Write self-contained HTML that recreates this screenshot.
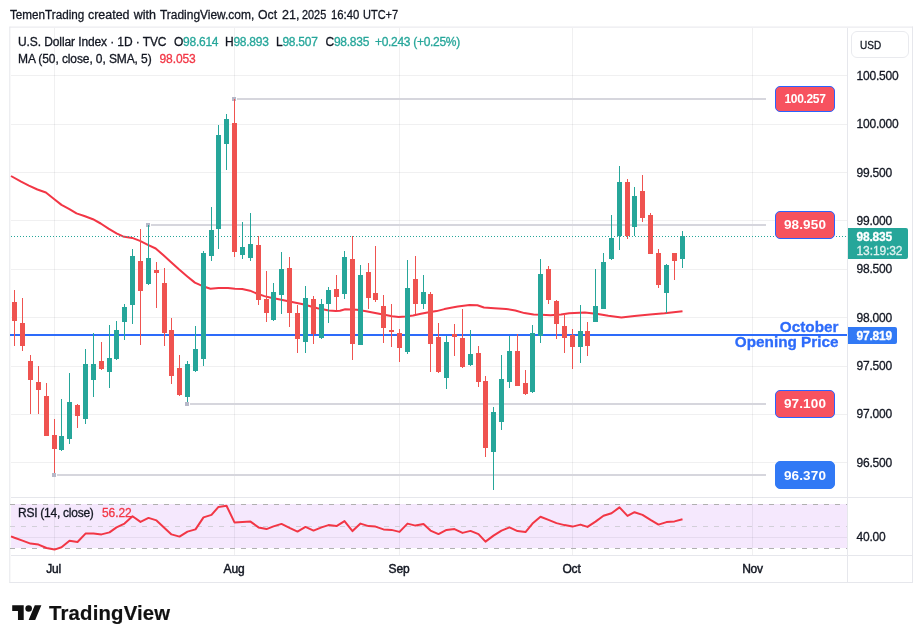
<!DOCTYPE html>
<html><head><meta charset="utf-8"><title>chart</title>
<style>
html,body{margin:0;padding:0;background:#fff;}
body{-webkit-text-stroke:0.3px;width:923px;height:643px;position:relative;overflow:hidden;font-family:"Liberation Sans",sans-serif;color:#131722;}
.abs{position:absolute;white-space:nowrap;}
.hdr{left:10px;top:7px;font-size:12.5px;line-height:16px;letter-spacing:0;}
.leg{font-size:12px;line-height:16px;letter-spacing:-0.1px;}
.g{color:#26a69a;} .r{color:#f23645;}
.ax{position:absolute;left:856.5px;font-size:12px;line-height:16px;white-space:nowrap;letter-spacing:-0.2px;}
.lbl{-webkit-text-stroke:0;position:absolute;left:775px;width:58px;height:24px;border:1px solid #2962ff;border-radius:5px;background:#f7525f;color:#fff;font-weight:bold;font-size:13.5px;line-height:24px;text-align:center;letter-spacing:0;}
.tm{position:absolute;top:562px;font-size:12px;line-height:14px;font-weight:normal;-webkit-text-stroke:0.45px;letter-spacing:-0.2px;color:#131722;transform:translateX(-50%);white-space:nowrap;}
</style></head><body><div id="root" style="position:absolute;left:0;top:0;width:923px;height:643px;will-change:transform;">
<div class="abs hdr" style="left:10.4px;transform:scaleX(0.935);transform-origin:0 0;">TemenTrading</div><div class="abs hdr" style="left:88.2px;transform:scaleX(0.995);transform-origin:0 0;">created</div><div class="abs hdr" style="left:133.8px;transform:scaleX(1.0);transform-origin:0 0;">with</div><div class="abs hdr" style="left:160.4px;transform:scaleX(0.955);transform-origin:0 0;">TradingView.com,</div><div class="abs hdr" style="left:258.4px;transform:scaleX(0.98);transform-origin:0 0;">Oct</div><div class="abs hdr" style="left:282px;transform:scaleX(1.0);transform-origin:0 0;">21,</div><div class="abs hdr" style="left:301.8px;transform:scaleX(0.87);transform-origin:0 0;">2025</div><div class="abs hdr" style="left:330.9px;transform:scaleX(0.905);transform-origin:0 0;">16:40</div><div class="abs hdr" style="left:363.4px;transform:scaleX(0.88);transform-origin:0 0;">UTC+7</div>
<svg class="abs" style="left:0;top:0" width="923" height="643" viewBox="0 0 923 643" shape-rendering="crispEdges">
<g shape-rendering="auto" fill="#e6e7ec"><rect x="9.300" y="26.600" width="1" height="556.400"/><rect x="9.600" y="26.600" width="903.400" height="1"/><rect x="912" y="26.600" width="1" height="556.400"/><rect x="9.600" y="582" width="903.400" height="1"/></g>
<rect x="847" y="28" width="1" height="555" fill="#e6e7ec"/>
<rect x="11" y="497" width="901" height="1" fill="#e6e7ec"/>
<rect x="11" y="555" width="901" height="1" fill="#e6e7ec"/>
<rect x="11" y="504" width="836" height="44" fill="#f5e8fd"/>
<rect x="54" y="28" width="1" height="527" fill="rgba(30,34,50,0.065)"/>
<rect x="234" y="28" width="1" height="527" fill="rgba(30,34,50,0.065)"/>
<rect x="399" y="28" width="1" height="527" fill="rgba(30,34,50,0.065)"/>
<rect x="572" y="28" width="1" height="527" fill="rgba(30,34,50,0.065)"/>
<rect x="752" y="28" width="1" height="527" fill="rgba(30,34,50,0.065)"/>
<rect x="11" y="75" width="836" height="1" fill="rgba(30,34,50,0.065)"/>
<rect x="11" y="124" width="836" height="1" fill="rgba(30,34,50,0.065)"/>
<rect x="11" y="172" width="836" height="1" fill="rgba(30,34,50,0.065)"/>
<rect x="11" y="220" width="836" height="1" fill="rgba(30,34,50,0.065)"/>
<rect x="11" y="269" width="836" height="1" fill="rgba(30,34,50,0.065)"/>
<rect x="11" y="317" width="836" height="1" fill="rgba(30,34,50,0.065)"/>
<rect x="11" y="366" width="836" height="1" fill="rgba(30,34,50,0.065)"/>
<rect x="11" y="414" width="836" height="1" fill="rgba(30,34,50,0.065)"/>
<rect x="11" y="462" width="836" height="1" fill="rgba(30,34,50,0.065)"/>
<rect x="11" y="537" width="836" height="1" fill="rgba(30,34,50,0.065)"/>
<line x1="10" y1="504.5" x2="847" y2="504.5" stroke="#b0b0b0" stroke-width="1" stroke-dasharray="5 6"/>
<line x1="10" y1="526.5" x2="847" y2="526.5" stroke="#d2cfd8" stroke-width="1" stroke-dasharray="5 6"/>
<line x1="10" y1="548.5" x2="847" y2="548.5" stroke="#b0b0b0" stroke-width="1" stroke-dasharray="5 6"/>
<rect x="237" y="98" width="529" height="2" fill="#d6d6dd"/>
<rect x="151" y="224" width="615" height="2" fill="#d6d6dd"/>
<rect x="190" y="403" width="576" height="2" fill="#d6d6dd"/>
<rect x="57" y="474" width="709" height="2" fill="#d6d6dd"/>
<g fill="#b7b9c9">
<rect x="232" y="97" width="4" height="4"/>
<rect x="146" y="223" width="4" height="4"/>
<rect x="185" y="402" width="4" height="4"/>
<rect x="52" y="473" width="4" height="4"/>
</g>
<rect x="10" y="334" width="837" height="2" fill="#2d6bfa"/>
<g shape-rendering="auto">
<polyline points="11.0,176.0 21.1,181.7 28.9,185.6 37.4,189.5 45.9,192.5 53.7,198.7 61.5,204.9 69.4,209.1 76.5,213.4 85.0,216.3 92.9,219.2 100.7,223.5 108.5,228.7 116.5,233.4 123.0,236.4 132.2,237.9 140.0,240.9 147.9,244.8 155.7,248.5 163.5,255.3 171.4,262.5 179.2,269.6 187.0,276.2 194.9,282.6 201.6,285.7 210.4,288.8 218.5,288.0 228.0,287.9 235.0,288.7 242.2,289.0 250.0,290.7 256.6,293.5 264.4,296.1 271.0,297.8 280.0,299.4 292.0,302.0 303.0,304.2 317.5,308.2 329.0,310.5 335.7,311.0 340.0,310.7 345.2,309.2 357.0,309.8 366.1,311.3 375.2,312.9 383.1,314.6 392.2,316.3 398.7,317.1 405.3,316.6 413.1,315.5 420.9,313.7 428.8,312.2 436.6,311.1 444.4,309.1 452.3,307.6 457.8,306.6 469.6,305.0 477.4,305.2 483.9,307.5 494.4,308.2 506.1,308.9 515.3,310.5 524.4,313.1 533.6,314.4 541.4,314.8 550.5,315.3 561.0,314.4 569.2,313.2 584.8,312.5 597.9,313.9 608.3,315.8 621.4,317.4 634.4,316.1 650.0,314.4 664.6,313.3 682.5,311.3" fill="none" stroke="#f23645" stroke-width="2" stroke-linejoin="round" stroke-linecap="butt"/>
<polyline points="11.0,536.4 14.5,537.8 22.5,540.6 30.5,543.6 38.5,544.6 46.5,548.0 54.5,549.6 61.5,547.3 69.5,540.8 77.5,542.0 85.5,533.6 93.5,533.4 101.5,534.4 109.5,532.4 116.5,527.4 124.5,523.6 132.5,516.2 140.5,521.9 148.5,517.9 156.5,520.4 164.5,527.9 171.5,534.4 179.5,536.6 187.5,531.6 195.5,529.4 203.5,517.4 211.5,514.9 218.5,506.9 226.5,505.7 234.5,522.4 242.5,521.9 250.5,521.6 258.5,527.4 266.5,529.1 273.5,526.4 281.5,523.9 289.5,527.9 297.5,531.6 305.5,526.9 313.5,530.6 321.5,527.4 328.5,525.1 336.5,526.1 344.5,521.1 352.5,531.1 360.5,523.6 368.5,526.1 375.5,526.6 383.5,529.4 391.5,529.9 399.5,531.9 407.5,523.6 415.5,525.6 423.5,524.1 430.5,530.6 438.5,534.1 446.5,529.9 454.5,529.1 462.5,532.9 470.5,530.9 478.5,534.1 485.5,541.6 493.5,535.6 501.5,530.6 509.5,527.4 517.5,531.1 525.5,532.1 532.5,523.6 540.5,516.7 548.5,519.9 556.5,523.1 564.5,525.1 572.5,526.6 580.5,524.6 587.5,526.9 595.5,521.6 603.5,515.7 611.5,513.2 619.5,507.4 627.5,515.9 634.5,512.2 642.5,514.9 650.5,519.9 658.5,524.6 666.5,522.1 674.5,521.4 682.5,519.2" fill="none" stroke="#f23645" stroke-width="2" stroke-linejoin="round" stroke-linecap="butt"/>
</g>
<line x1="11" y1="236.5" x2="847" y2="236.5" stroke="#26a69a" stroke-width="1" stroke-dasharray="1 2"/>
<rect x="14" y="290" width="1" height="56" fill="#ef5350"/>
<rect x="12" y="302" width="5" height="19" fill="#ef5350"/>
<rect x="22" y="298" width="1" height="53" fill="#ef5350"/>
<rect x="20" y="323" width="5" height="23" fill="#ef5350"/>
<rect x="30" y="355" width="1" height="59" fill="#ef5350"/>
<rect x="28" y="361" width="5" height="19" fill="#ef5350"/>
<rect x="38" y="366" width="1" height="48" fill="#ef5350"/>
<rect x="36" y="382" width="5" height="8" fill="#ef5350"/>
<rect x="46" y="383" width="1" height="53" fill="#ef5350"/>
<rect x="44" y="396" width="5" height="40" fill="#ef5350"/>
<rect x="54" y="419" width="1" height="54" fill="#ef5350"/>
<rect x="52" y="435" width="5" height="14" fill="#ef5350"/>
<rect x="61" y="399" width="1" height="52" fill="#26a69a"/>
<rect x="59" y="436" width="5" height="14" fill="#26a69a"/>
<rect x="69" y="373" width="1" height="71" fill="#26a69a"/>
<rect x="67" y="402" width="5" height="37" fill="#26a69a"/>
<rect x="77" y="404" width="1" height="24" fill="#ef5350"/>
<rect x="75" y="405" width="5" height="11" fill="#ef5350"/>
<rect x="85" y="349" width="1" height="75" fill="#26a69a"/>
<rect x="83" y="364" width="5" height="55" fill="#26a69a"/>
<rect x="93" y="333" width="1" height="64" fill="#26a69a"/>
<rect x="91" y="364" width="5" height="16" fill="#26a69a"/>
<rect x="101" y="342" width="1" height="28" fill="#ef5350"/>
<rect x="99" y="361" width="5" height="8" fill="#ef5350"/>
<rect x="109" y="325" width="1" height="63" fill="#26a69a"/>
<rect x="107" y="358" width="5" height="14" fill="#26a69a"/>
<rect x="116" y="321" width="1" height="39" fill="#26a69a"/>
<rect x="114" y="330" width="5" height="29" fill="#26a69a"/>
<rect x="124" y="304" width="1" height="36" fill="#26a69a"/>
<rect x="122" y="307" width="5" height="15" fill="#26a69a"/>
<rect x="132" y="249" width="1" height="75" fill="#26a69a"/>
<rect x="130" y="256" width="5" height="49" fill="#26a69a"/>
<rect x="140" y="229" width="1" height="116" fill="#ef5350"/>
<rect x="138" y="261" width="5" height="30" fill="#ef5350"/>
<rect x="148" y="225" width="1" height="60" fill="#26a69a"/>
<rect x="146" y="258" width="5" height="26" fill="#26a69a"/>
<rect x="156" y="262" width="1" height="46" fill="#ef5350"/>
<rect x="154" y="270" width="5" height="3" fill="#ef5350"/>
<rect x="164" y="268" width="1" height="78" fill="#ef5350"/>
<rect x="162" y="283" width="5" height="50" fill="#ef5350"/>
<rect x="171" y="318" width="1" height="66" fill="#ef5350"/>
<rect x="169" y="330" width="5" height="46" fill="#ef5350"/>
<rect x="179" y="355" width="1" height="41" fill="#ef5350"/>
<rect x="177" y="368" width="5" height="27" fill="#ef5350"/>
<rect x="187" y="361" width="1" height="41" fill="#26a69a"/>
<rect x="185" y="364" width="5" height="33" fill="#26a69a"/>
<rect x="195" y="326" width="1" height="46" fill="#26a69a"/>
<rect x="193" y="349" width="5" height="22" fill="#26a69a"/>
<rect x="203" y="251" width="1" height="115" fill="#26a69a"/>
<rect x="201" y="253" width="5" height="106" fill="#26a69a"/>
<rect x="211" y="207" width="1" height="54" fill="#26a69a"/>
<rect x="209" y="230" width="5" height="26" fill="#26a69a"/>
<rect x="218" y="125" width="1" height="124" fill="#26a69a"/>
<rect x="216" y="135" width="5" height="94" fill="#26a69a"/>
<rect x="226" y="114" width="1" height="56" fill="#26a69a"/>
<rect x="224" y="119" width="5" height="25" fill="#26a69a"/>
<rect x="234" y="99" width="1" height="158" fill="#ef5350"/>
<rect x="232" y="123" width="5" height="129" fill="#ef5350"/>
<rect x="242" y="222" width="1" height="37" fill="#26a69a"/>
<rect x="240" y="247" width="5" height="8" fill="#26a69a"/>
<rect x="250" y="213" width="1" height="48" fill="#26a69a"/>
<rect x="248" y="244" width="5" height="14" fill="#26a69a"/>
<rect x="258" y="236" width="1" height="69" fill="#ef5350"/>
<rect x="256" y="245" width="5" height="55" fill="#ef5350"/>
<rect x="266" y="271" width="1" height="51" fill="#ef5350"/>
<rect x="264" y="299" width="5" height="14" fill="#ef5350"/>
<rect x="273" y="283" width="1" height="38" fill="#26a69a"/>
<rect x="271" y="292" width="5" height="28" fill="#26a69a"/>
<rect x="281" y="252" width="1" height="62" fill="#26a69a"/>
<rect x="279" y="269" width="5" height="26" fill="#26a69a"/>
<rect x="289" y="257" width="1" height="70" fill="#ef5350"/>
<rect x="287" y="268" width="5" height="45" fill="#ef5350"/>
<rect x="297" y="305" width="1" height="48" fill="#ef5350"/>
<rect x="295" y="313" width="5" height="26" fill="#ef5350"/>
<rect x="305" y="286" width="1" height="67" fill="#26a69a"/>
<rect x="303" y="298" width="5" height="44" fill="#26a69a"/>
<rect x="313" y="296" width="1" height="48" fill="#ef5350"/>
<rect x="311" y="299" width="5" height="35" fill="#ef5350"/>
<rect x="321" y="299" width="1" height="40" fill="#26a69a"/>
<rect x="319" y="304" width="5" height="34" fill="#26a69a"/>
<rect x="328" y="287" width="1" height="36" fill="#26a69a"/>
<rect x="326" y="290" width="5" height="14" fill="#26a69a"/>
<rect x="336" y="275" width="1" height="35" fill="#ef5350"/>
<rect x="334" y="289" width="5" height="8" fill="#ef5350"/>
<rect x="344" y="251" width="1" height="48" fill="#26a69a"/>
<rect x="342" y="257" width="5" height="37" fill="#26a69a"/>
<rect x="352" y="236" width="1" height="124" fill="#ef5350"/>
<rect x="350" y="259" width="5" height="85" fill="#ef5350"/>
<rect x="360" y="265" width="1" height="80" fill="#26a69a"/>
<rect x="358" y="275" width="5" height="70" fill="#26a69a"/>
<rect x="368" y="263" width="1" height="46" fill="#ef5350"/>
<rect x="366" y="272" width="5" height="26" fill="#ef5350"/>
<rect x="375" y="246" width="1" height="56" fill="#ef5350"/>
<rect x="373" y="293" width="5" height="7" fill="#ef5350"/>
<rect x="383" y="295" width="1" height="48" fill="#ef5350"/>
<rect x="381" y="306" width="5" height="22" fill="#ef5350"/>
<rect x="391" y="304" width="1" height="43" fill="#ef5350"/>
<rect x="389" y="330" width="5" height="2" fill="#ef5350"/>
<rect x="399" y="329" width="1" height="33" fill="#ef5350"/>
<rect x="397" y="333" width="5" height="15" fill="#ef5350"/>
<rect x="407" y="260" width="1" height="94" fill="#26a69a"/>
<rect x="405" y="288" width="5" height="64" fill="#26a69a"/>
<rect x="415" y="256" width="1" height="58" fill="#ef5350"/>
<rect x="413" y="279" width="5" height="25" fill="#ef5350"/>
<rect x="423" y="275" width="1" height="34" fill="#26a69a"/>
<rect x="421" y="292" width="5" height="12" fill="#26a69a"/>
<rect x="430" y="292" width="1" height="80" fill="#ef5350"/>
<rect x="428" y="294" width="5" height="50" fill="#ef5350"/>
<rect x="438" y="323" width="1" height="50" fill="#ef5350"/>
<rect x="436" y="337" width="5" height="35" fill="#ef5350"/>
<rect x="446" y="336" width="1" height="53" fill="#26a69a"/>
<rect x="444" y="342" width="5" height="36" fill="#26a69a"/>
<rect x="454" y="324" width="1" height="32" fill="#ef5350"/>
<rect x="452" y="334" width="5" height="3" fill="#ef5350"/>
<rect x="462" y="309" width="1" height="59" fill="#ef5350"/>
<rect x="460" y="338" width="5" height="29" fill="#ef5350"/>
<rect x="470" y="330" width="1" height="36" fill="#26a69a"/>
<rect x="468" y="354" width="5" height="11" fill="#26a69a"/>
<rect x="478" y="346" width="1" height="41" fill="#ef5350"/>
<rect x="476" y="353" width="5" height="29" fill="#ef5350"/>
<rect x="485" y="376" width="1" height="81" fill="#ef5350"/>
<rect x="483" y="381" width="5" height="67" fill="#ef5350"/>
<rect x="493" y="407" width="1" height="83" fill="#26a69a"/>
<rect x="491" y="412" width="5" height="40" fill="#26a69a"/>
<rect x="501" y="355" width="1" height="75" fill="#26a69a"/>
<rect x="499" y="379" width="5" height="43" fill="#26a69a"/>
<rect x="509" y="336" width="1" height="52" fill="#26a69a"/>
<rect x="507" y="351" width="5" height="31" fill="#26a69a"/>
<rect x="517" y="334" width="1" height="52" fill="#ef5350"/>
<rect x="515" y="351" width="5" height="35" fill="#ef5350"/>
<rect x="525" y="370" width="1" height="25" fill="#ef5350"/>
<rect x="523" y="383" width="5" height="11" fill="#ef5350"/>
<rect x="532" y="325" width="1" height="68" fill="#26a69a"/>
<rect x="530" y="333" width="5" height="59" fill="#26a69a"/>
<rect x="540" y="259" width="1" height="84" fill="#26a69a"/>
<rect x="538" y="274" width="5" height="62" fill="#26a69a"/>
<rect x="548" y="266" width="1" height="38" fill="#ef5350"/>
<rect x="546" y="269" width="5" height="31" fill="#ef5350"/>
<rect x="556" y="300" width="1" height="39" fill="#ef5350"/>
<rect x="554" y="301" width="5" height="23" fill="#ef5350"/>
<rect x="564" y="314" width="1" height="39" fill="#ef5350"/>
<rect x="562" y="326" width="5" height="12" fill="#ef5350"/>
<rect x="572" y="329" width="1" height="40" fill="#ef5350"/>
<rect x="570" y="335" width="5" height="12" fill="#ef5350"/>
<rect x="580" y="305" width="1" height="58" fill="#26a69a"/>
<rect x="578" y="331" width="5" height="16" fill="#26a69a"/>
<rect x="587" y="322" width="1" height="34" fill="#ef5350"/>
<rect x="585" y="331" width="5" height="15" fill="#ef5350"/>
<rect x="595" y="269" width="1" height="53" fill="#26a69a"/>
<rect x="593" y="306" width="5" height="16" fill="#26a69a"/>
<rect x="603" y="253" width="1" height="56" fill="#26a69a"/>
<rect x="601" y="262" width="5" height="47" fill="#26a69a"/>
<rect x="611" y="215" width="1" height="45" fill="#26a69a"/>
<rect x="609" y="238" width="5" height="21" fill="#26a69a"/>
<rect x="619" y="166" width="1" height="84" fill="#26a69a"/>
<rect x="617" y="182" width="5" height="54" fill="#26a69a"/>
<rect x="627" y="179" width="1" height="60" fill="#ef5350"/>
<rect x="625" y="182" width="5" height="54" fill="#ef5350"/>
<rect x="634" y="187" width="1" height="49" fill="#26a69a"/>
<rect x="632" y="196" width="5" height="31" fill="#26a69a"/>
<rect x="642" y="175" width="1" height="47" fill="#ef5350"/>
<rect x="640" y="191" width="5" height="27" fill="#ef5350"/>
<rect x="650" y="213" width="1" height="41" fill="#ef5350"/>
<rect x="648" y="215" width="5" height="39" fill="#ef5350"/>
<rect x="658" y="249" width="1" height="39" fill="#ef5350"/>
<rect x="656" y="253" width="5" height="32" fill="#ef5350"/>
<rect x="666" y="264" width="1" height="49" fill="#26a69a"/>
<rect x="664" y="265" width="5" height="28" fill="#26a69a"/>
<rect x="674" y="253" width="1" height="27" fill="#ef5350"/>
<rect x="672" y="253" width="5" height="8" fill="#ef5350"/>
<rect x="682" y="231" width="1" height="37" fill="#26a69a"/>
<rect x="680" y="236" width="5" height="23" fill="#26a69a"/>
</svg>
<div class="abs leg" style="left:18px;top:34px">U.S. Dollar Index · 1D · TVC</div>
<div class="abs leg" style="left:174px;top:34px;letter-spacing:-0.25px">O<span class="g">98.614</span></div>
<div class="abs leg" style="left:225px;top:34px;letter-spacing:-0.25px">H<span class="g">98.893</span></div>
<div class="abs leg" style="left:276px;top:34px;letter-spacing:-0.25px">L<span class="g">98.507</span></div>
<div class="abs leg" style="left:325.500px;top:34px;letter-spacing:-0.25px">C<span class="g">98.835</span></div>
<div class="abs leg g" style="left:375px;top:34px;letter-spacing:-0.3px">+0.243 (+0.25%)</div>
<div class="abs leg" style="left:18px;top:51px">MA (50, close, 0, SMA, 5)</div>
<div class="abs leg r" style="left:159.500px;top:51px">98.053</div>
<div class="abs leg" style="left:18px;top:505px;letter-spacing:-0.25px">RSI (14, close)</div>
<div class="abs leg r" style="left:102px;top:505px">56.22</div>

<div class="abs" style="left:851px;top:30.500px;width:58px;height:27px;border:1px solid #e9eaee;border-radius:6px;box-sizing:border-box;"></div>
<div class="abs" style="left:859.500px;top:36.500px;font-size:11.500px;line-height:16px;transform:scaleX(0.87);transform-origin:0 0;">USD</div>
<div class="ax" style="top:68px">100.500</div>
<div class="ax" style="top:116px">100.000</div>
<div class="ax" style="top:165px">99.500</div>
<div class="ax" style="top:213px">99.000</div>
<div class="ax" style="top:261px">98.500</div>
<div class="ax" style="top:310px">98.000</div>
<div class="ax" style="top:358px">97.500</div>
<div class="ax" style="top:406px">97.000</div>
<div class="ax" style="top:455px">96.500</div>
<div class="ax" style="top:529px">40.00</div>

<div class="lbl" style="top:86px;font-size:12px;letter-spacing:-0.35px;">100.257</div>
<div class="lbl" style="top:211px;height:25.500px;line-height:26.500px;letter-spacing:0.15px;">98.950</div>
<div class="lbl" style="top:390px;height:25.500px;line-height:26.500px;letter-spacing:0.15px;">97.100</div>
<div class="lbl" style="top:461px;height:26px;line-height:27px;letter-spacing:0.15px;background:#3179f5;border-color:#3179f5;">96.370</div>

<div class="abs" style="left:848px;top:228px;width:60px;height:31px;background:#26a69a;border-radius:0 2px 2px 0;"></div>
<div class="abs" style="left:856.500px;top:230px;font-size:12px;line-height:15px;font-weight:bold;color:#fff;letter-spacing:-0.2px;">98.835</div>
<div class="abs" style="left:856.500px;top:243.500px;font-size:12px;line-height:15px;color:#e0f2f0;letter-spacing:-0.1px;">13:19:32</div>
<div class="abs" style="left:848px;top:327px;width:49px;height:17px;background:#3179f5;border-radius:0 2px 2px 0;"></div>
<div class="abs" style="left:856.500px;top:328.500px;font-size:12px;line-height:15px;font-weight:bold;color:#fff;letter-spacing:-0.2px;transform:scaleY(1.08);">97.819</div>

<div class="abs" style="right:84.500px;top:319px;font-size:15.300px;line-height:16px;font-weight:bold;color:#2d6bfa;text-align:right;">October</div>
<div class="abs" style="right:84.500px;top:334px;font-size:15.300px;line-height:16px;font-weight:bold;color:#2d6bfa;text-align:right;">Opening Price</div>

<div class="tm" style="left:53.500px">Jul</div>
<div class="tm" style="left:234px">Aug</div>
<div class="tm" style="left:399px">Sep</div>
<div class="tm" style="left:571.500px">Oct</div>
<div class="tm" style="left:752.500px">Nov</div>

<svg class="abs" style="left:12.400px;top:602px" width="30" height="23" viewBox="0 0 36 28"><path d="M14 22H7V11H0V4h14v18zM28 22h-8l7.500-18h8L28 22z" fill="#111"/><circle cx="20" cy="8" r="4" fill="#111"/></svg>
<div class="abs" style="left:49px;top:601px;font-size:20.300px;line-height:24px;font-weight:bold;color:#111;letter-spacing:0.2px;-webkit-text-stroke:0.2px;">TradingView</div>
</div></body></html>
